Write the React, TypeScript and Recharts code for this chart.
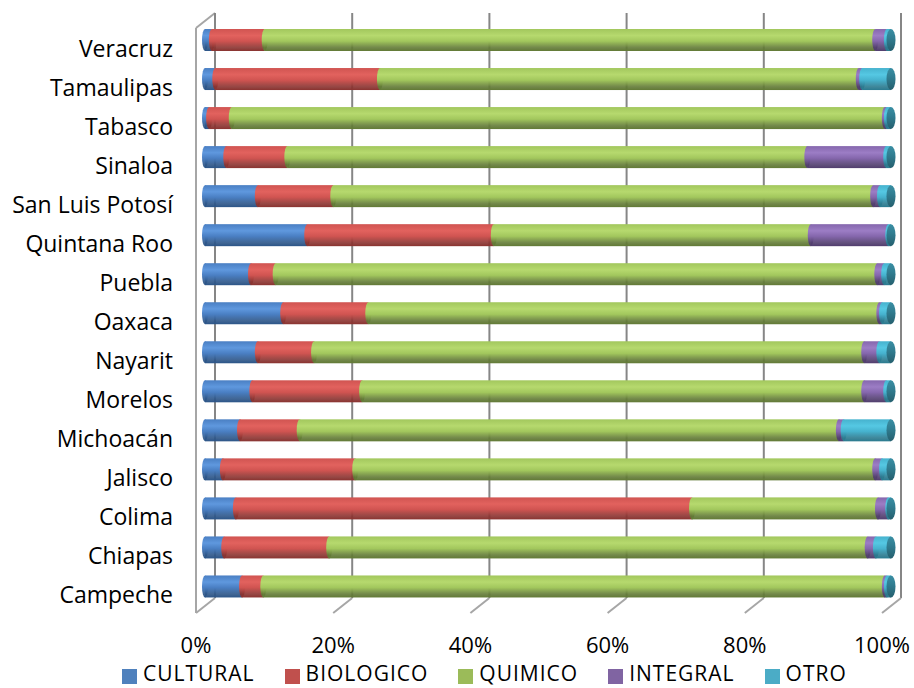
import React from "react";
import { BarChart, Bar, XAxis, YAxis, CartesianGrid } from "recharts";

const states = [
  "Veracruz",
  "Tamaulipas",
  "Tabasco",
  "Sinaloa",
  "San Luis Potosí",
  "Quintana Roo",
  "Puebla",
  "Oaxaca",
  "Nayarit",
  "Morelos",
  "Michoacán",
  "Jalisco",
  "Colima",
  "Chiapas",
  "Campeche",
];

// percentages, one value per state
const cultural = [1.0, 1.5, 0.6, 3.1, 7.7, 14.9, 6.7, 11.4, 7.7, 6.9, 5.1, 2.6, 4.5, 2.8, 5.4];
const biologico = [7.7, 24.0, 3.3, 8.9, 11.0, 27.2, 3.6, 12.4, 8.2, 16.0, 8.7, 19.3, 66.5, 15.3, 3.1];
const quimico = [89.0, 69.8, 95.2, 75.8, 78.7, 46.2, 87.7, 74.5, 80.2, 73.2, 78.6, 75.8, 27.1, 78.5, 90.6];
const integral = [1.7, 0.5, 0.3, 11.5, 1.0, 11.3, 1.0, 0.4, 2.2, 3.2, 0.7, 1.0, 1.5, 1.2, 0.3];
const otro = [0.6, 4.2, 0.6, 0.7, 1.6, 0.4, 1.0, 1.3, 1.7, 0.7, 6.9, 1.3, 0.4, 2.2, 0.6];

const xTicks = [0, 0.2, 0.4, 0.6, 0.8, 1];

const series = [
  { key: "CULTURAL", values: cultural, swatch: "#4F81BD", light: "#5f98de", base: "#4a7fc3", dark: "#2c5588" },
  { key: "BIOLOGICO", values: biologico, swatch: "#C0504D", light: "#e2625e", base: "#d05451", dark: "#8a3330" },
  { key: "QUIMICO", values: quimico, swatch: "#9BBB59", light: "#b6d96e", base: "#a2c75d", dark: "#627a36" },
  { key: "INTEGRAL", values: integral, swatch: "#8064A2", light: "#9c7dc5", base: "#8567ad", dark: "#513d6e" },
  { key: "OTRO", values: otro, swatch: "#4BACC6", light: "#55c8e3", base: "#46b2ce", dark: "#2a7a8f" },
];

const data = states.map((name, i) => {
  const row: any = { name };
  series.forEach((s) => (row[s.key] = s.values[i]));
  return row;
});

const FONT = "'Open Sans', 'Noto Sans', sans-serif";

const makeShape = (id: string, last: boolean) => (props: any) => {
  const { x, y, width, height } = props;
  if (x == null || y == null || !height) return <g />;
  const ry = height / 2;
  const w = Math.max(width || 0, 0);
  return (
    <g>
      <ellipse cx={x} cy={y + ry} rx={3} ry={ry} fill={`url(#g-${id})`} />
      <rect x={x} y={y} width={w} height={height} fill={`url(#g-${id})`} />
      {last && <ellipse cx={x + w} cy={y + ry} rx={4.5} ry={ry} fill="url(#g-cap)" />}
    </g>
  );
};

// back-wall grid line plus the floor diagonal, and the left wall on the first one
const gridLine = (props: any) => {
  const { x1, y1, y2, index } = props;
  const back = x1 + 10;
  const front = x1 - 9;
  return (
    <g key={`v-${index}-${x1}`}>
      {index === 0 && (
        <g>
          <line x1={front} y1={y1 + 8} x2={front} y2={y2 + 7.5} stroke="#a6a6a6" strokeWidth={2} />
          <line x1={front} y1={y1 + 8} x2={back} y2={y1 - 7} stroke="#a6a6a6" strokeWidth={2} />
        </g>
      )}
      <line x1={back} y1={y1 - 7} x2={back} y2={y2 - 7.5} stroke="#868686" strokeWidth={2} />
      <line x1={back} y1={y2 - 7.5} x2={front} y2={y2 + 7.5} stroke="#a6a6a6" strokeWidth={2} />
    </g>
  );
};

const StateTick = ({ x, y, payload }: any) => (
  <text x={x} y={y} dy={17} textAnchor="end" fontFamily={FONT} fontSize={23} fill="#000">
    {payload.value}
  </text>
);

const PctTick = ({ x, y, payload }: any) => (
  <text x={x - 9} y={y + 47} textAnchor="middle" fontFamily={FONT} fontSize={22} fill="#000">
    {`${Math.round(payload.value * 100)}%`}
  </text>
);

export default function App() {
  return (
    <div style={{ position: "absolute", left: 0, top: 0, width: 914, height: 688, background: "#fff" }}>
      <BarChart
        width={914}
        height={688}
        data={data}
        layout="vertical"
        stackOffset="expand"
        barSize={22}
        margin={{ top: 20, right: 23, left: 5, bottom: 32.5 }}
      >
        <defs>
          {series.map((s) => (
            <linearGradient key={s.key} id={`g-${s.key}`} x1="0" y1="0" x2="0" y2="1">
              <stop offset="0%" stopColor={s.base} />
              <stop offset="30%" stopColor={s.light} />
              <stop offset="55%" stopColor={s.base} />
              <stop offset="85%" stopColor={s.dark} stopOpacity={0.9} />
              <stop offset="100%" stopColor={s.dark} />
            </linearGradient>
          ))}
          <linearGradient id="g-cap" x1="0" y1="0" x2="0" y2="1">
            <stop offset="0%" stopColor="#3a8ea3" />
            <stop offset="40%" stopColor="#317e92" />
            <stop offset="100%" stopColor="#255f6e" />
          </linearGradient>
        </defs>
        <CartesianGrid horizontal={false} vertical={gridLine} />
        <XAxis
          type="number"
          domain={[0, 1]}
          ticks={xTicks}
          axisLine={false}
          tickLine={false}
          tickSize={0}
          tickMargin={0}
          height={50}
          tick={<PctTick />}
          interval={0}
        />
        <YAxis
          type="category"
          dataKey="name"
          width={200}
          axisLine={false}
          tickLine={false}
          tickSize={0}
          tickMargin={32}
          tick={<StateTick />}
          interval={0}
        />
        {series.map((s, i) => (
          <Bar
            key={s.key}
            dataKey={s.key}
            stackId="a"
            isAnimationActive={false}
            shape={makeShape(s.key, i === series.length - 1)}
          />
        ))}
      </BarChart>
      <div
        style={{
          position: "absolute",
          left: 122,
          top: 659.2,
          display: "flex",
          alignItems: "flex-start",
          fontFamily: FONT,
          fontSize: 21,
          letterSpacing: 1,
          lineHeight: "normal",
          color: "#000",
          whiteSpace: "nowrap",
        }}
      >
        {series.map((s) => (
          <span key={s.key} style={{ display: "flex", alignItems: "flex-start", marginRight: 30 }}>
            <span
              style={{ width: 15, height: 15, background: s.swatch, marginRight: 6, marginTop: 10, display: "inline-block" }}
            />
            {s.key}
          </span>
        ))}
      </div>
    </div>
  );
}
